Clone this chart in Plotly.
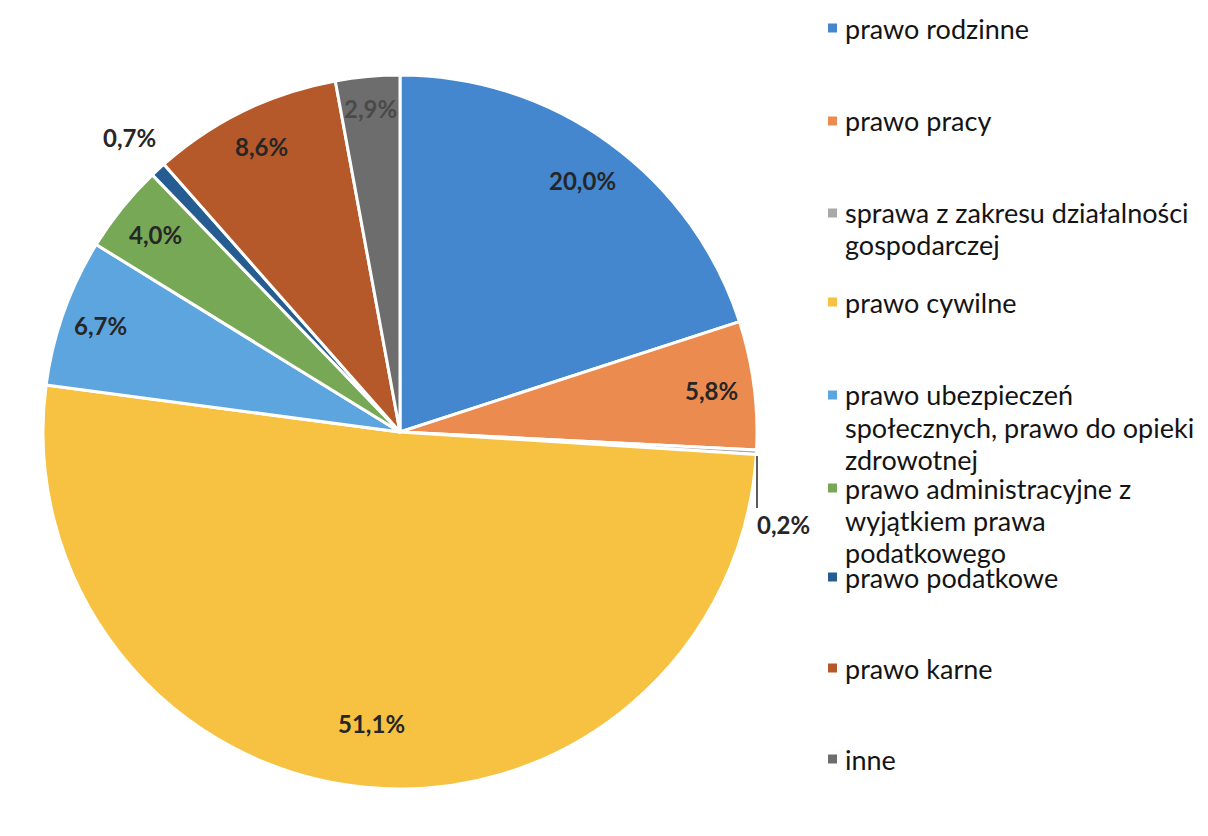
import math
import plotly.graph_objects as go

categories = [
    "prawo rodzinne",
    "prawo pracy",
    "sprawa z zakresu działalności gospodarczej",
    "prawo cywilne",
    "prawo ubezpieczeń społecznych, prawo do opieki zdrowotnej",
    "prawo administracyjne z wyjątkiem prawa podatkowego",
    "prawo podatkowe",
    "prawo karne",
    "inne",
]
legend_lines = [
    ["prawo rodzinne"],
    ["prawo pracy"],
    ["sprawa z zakresu działalności", "gospodarczej"],
    ["prawo cywilne"],
    ["prawo ubezpieczeń", "społecznych, prawo do opieki", "zdrowotnej"],
    ["prawo administracyjne z", "wyjątkiem prawa", "podatkowego"],
    ["prawo podatkowe"],
    ["prawo karne"],
    ["inne"],
]
values = [20.0, 5.8, 0.2, 51.1, 6.7, 4.0, 0.7, 8.6, 2.9]
colors = ["#4487CF", "#EB8B4F", "#A9A9A9", "#F7C242", "#5DA5DE",
          "#77A856", "#255D92", "#B5592A", "#6D6D6D"]
# label placement per slice: radial factor (fraction of radius); None = leader line label
label_radius = [0.87, 0.88, None, 0.82, 0.89, 0.88, 1.12, 0.89, 0.91]
label_colors = ["#262626", "#262626", "#262626", "#262626", "#262626",
                "#262626", "#262626", "#262626", "#4a4a4a"]

W, H = 1208, 836
OFF = 8  # page body margin
FONT = "Lato"
labels_text = [f"{v:.1f}%".replace(".", ",") for v in values]


def PX(x):
    return (x - OFF) / W


def PY(y):
    return (H - (y - OFF)) / H


cx, cy, R = 400, 432, 357

fig = go.Figure(go.Pie(
    labels=categories,
    values=values,
    textinfo="none",
    sort=False,
    direction="clockwise",
    rotation=0,
    marker=dict(colors=colors, line=dict(color="white", width=3)),
    domain=dict(x=[PX(cx - R), PX(cx + R)],
                y=[PY(cy + R), PY(cy - R)]),
    showlegend=False,
    hoverinfo="label+percent",
))

annotations = []
shapes = []

total = sum(values)
cum = 0.0
for i, v in enumerate(values):
    mid = (cum + v / 2) / total * 2 * math.pi
    cum += v
    f = label_radius[i]
    if f is None:
        continue
    px = cx + f * R * math.sin(mid)
    py = cy - f * R * math.cos(mid)
    annotations.append(dict(text=labels_text[i], xref="paper", yref="paper",
                            x=PX(px), y=PY(py), showarrow=False,
                            xanchor="center", yanchor="middle",
                            font=dict(family=FONT, size=24, color=label_colors[i],
                                      weight="bold")))

# leader line + label for the 0.2% slice
i_small = 2
shapes.append(dict(type="line", xref="paper", yref="paper",
                   x0=PX(757), x1=PX(757), y0=PY(456), y1=PY(508),
                   line=dict(color="#262626", width=1.5)))
annotations.append(dict(text=labels_text[i_small], xref="paper", yref="paper",
                        x=PX(784), y=PY(524), showarrow=False,
                        xanchor="center", yanchor="middle",
                        font=dict(family=FONT, size=24, color="#262626", weight="bold")))

# custom legend
legend_y = [28, 121, 213, 302, 395, 488, 577, 668, 759]
line_h = 32
for i, (lines, yy) in enumerate(zip(legend_lines, legend_y)):
    shapes.append(dict(type="rect", xref="paper", yref="paper",
                       x0=PX(828), x1=PX(837),
                       y0=PY(yy + 4.5), y1=PY(yy - 4.5),
                       fillcolor=colors[i], line=dict(width=0)))
    for k, ln in enumerate(lines):
        annotations.append(dict(text=ln, xref="paper", yref="paper",
                                x=PX(843), y=PY(yy + k * line_h),
                                showarrow=False, xanchor="left", yanchor="middle",
                                font=dict(family=FONT, size=27, color="#141414")))

fig.update_layout(
    width=W, height=H,
    margin=dict(l=0, r=0, t=0, b=0),
    paper_bgcolor="white",
    plot_bgcolor="white",
    annotations=annotations,
    shapes=shapes,
)

fig.write_html("out.html")
